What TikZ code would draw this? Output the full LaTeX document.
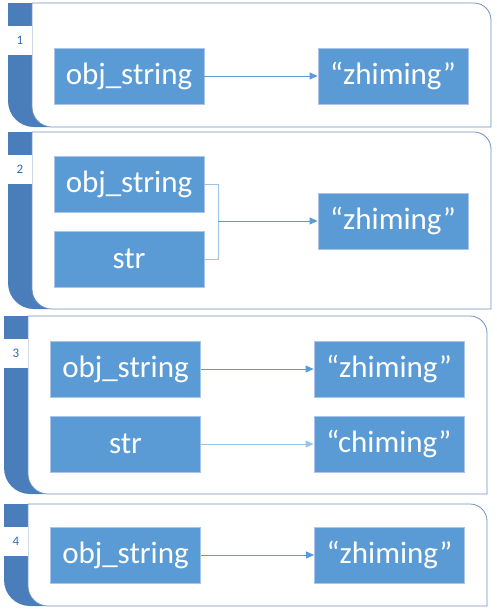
\documentclass[tikz,border=0pt]{standalone}
\usepackage{fontspec}
\setmainfont{Carlito}
\usetikzlibrary{arrows.meta,positioning}

\definecolor{nodeblue}{HTML}{5B9BD5}
\definecolor{nodeedge}{HTML}{A9C6E8}
\definecolor{barblue}{HTML}{4A7EBB}
\definecolor{boxedge}{HTML}{7092BC}
\definecolor{linklight}{HTML}{9DC3E6}
\definecolor{tagtext}{HTML}{2E6DB4}

\tikzset{
    item/.style={draw=nodeedge, line width=0.8pt, fill=nodeblue, text=white,
        minimum width=150pt, minimum height=56pt, inner sep=0pt,
        font=\fontsize{31}{36}\selectfont},
    tag/.style={fill=white, minimum width=24pt, minimum height=29pt, inner sep=0pt,
        text=tagtext, font=\fontsize{13}{15}\selectfont},
    link/.style={draw=nodeblue, line width=0.8pt, -{Triangle[length=8pt,width=7pt]}},
    linkpale/.style={link, draw=linklight},
}

\begin{document}
\begin{tikzpicture}[x=1pt, y=-1pt]
    \useasboundingbox (0,0) rectangle (497,614);

    % Panels: left / top / bottom / right / number
    \foreach \l/\t/\b/\r/\n in {8/3/127/491/1, 8/132/309/491/2, 4/316/494/487/3, 4/504/606/487/4} {
        % dark bar behind the panel
        \fill[barblue] (\l,\t) -- (\l+40,\t) -- (\l+40,\b) -- (\l+26,\b)
            arc[start angle=90, end angle=180, radius=26] -- cycle;
        % white panel box
        \draw[boxedge, line width=0.8pt, fill=white] (\l+24,\t) -- (\r-17,\t)
            arc[start angle=270, end angle=360, radius=17] -- (\r,\b) -- (\l+44,\b)
            arc[start angle=90, end angle=180, radius=20] -- cycle;
        % number tab
        \node[tag] (tag\n) at (\l+12,\t+37) {\n};
    }

    % Panel 1
    \node[item] (obj1) at (129,76) {obj\_string};
    \node[item] (val1) at (393,76) {“zhiming”};
    \draw[link] (obj1) -- (val1);

    % Panel 2
    \node[item] (obj2) at (129,184) {obj\_string};
    \node[item] (str2) at (129,259) {str};
    \node[item] (val2) at (393,221) {“zhiming”};
    \coordinate (join2) at (218,221);
    \draw[linklight, line width=0.8pt] (obj2.east) -| (join2);
    \draw[linklight, line width=0.8pt] (str2.east) -| (join2);
    \draw[link] (join2) -- (val2);

    % Panel 3
    \node[item] (obj3) at (125.5,369) {obj\_string};
    \node[item] (str3) at (125.5,444) {str};
    \node[item] (val3) at (389,369) {“zhiming”};
    \node[item] (new3) at (389,444) {“chiming”};
    \draw[link] (obj3) -- (val3);
    \draw[linkpale] (str3) -- (new3);

    % Panel 4
    \node[item] (obj4) at (125.5,555) {obj\_string};
    \node[item] (val4) at (389.5,555) {“zhiming”};
    \draw[link] (obj4) -- (val4);
\end{tikzpicture}
\end{document}
